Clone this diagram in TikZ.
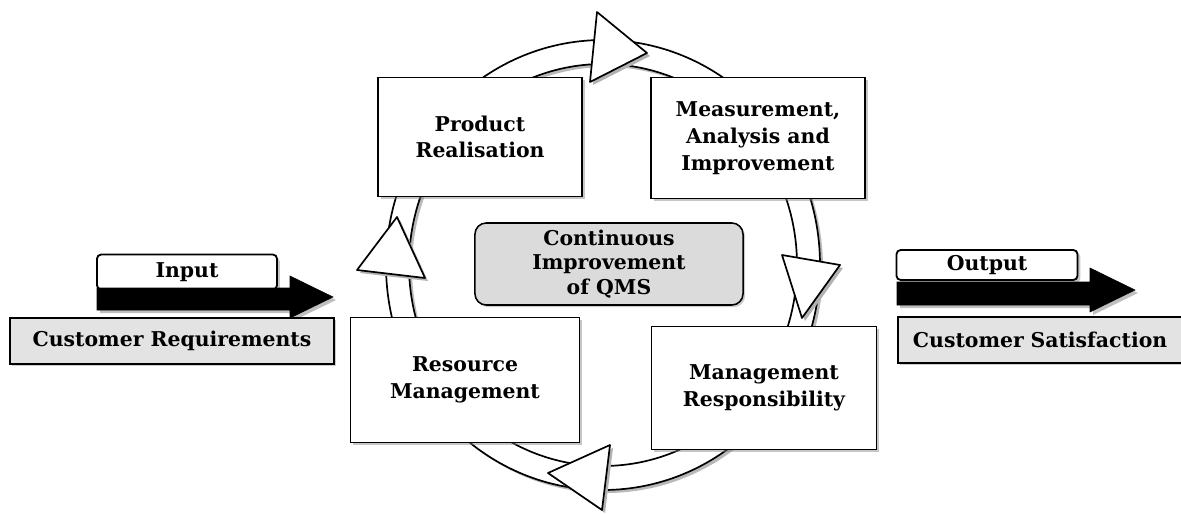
\documentclass[tikz,border=0pt]{standalone}
\usepackage{fontspec}
\setmainfont{DejaVu Serif}
\usetikzlibrary{shadows}
\tikzset{
  lbl/.style={font=\bfseries\fontsize{14.5}{19}\selectfont, align=center},
  stagebox/.style={lbl, draw=black, line width=1.3pt, fill=white, inner sep=0pt,
    drop shadow={shadow xshift=2pt, shadow yshift=-2pt, opacity=0.45, fill=gray}},
  tagbox/.style={stagebox, rounded corners=3pt},
  greybox/.style={lbl, draw=black, line width=1.1pt, fill=gray!22, inner sep=0pt,
    drop shadow={shadow xshift=1.5pt, shadow yshift=-1.5pt, opacity=0.4, fill=gray}},
  turn/.style={fill=white, draw=black, line width=1.2pt, line join=round},
  turnshadow/.style={fill=gray!60, draw=none},
  flow/.style={fill=black, draw=black, line join=miter}
}
\begin{document}
\begin{tikzpicture}[x=0.025cm,y=-0.025cm]
  \useasboundingbox (0,0) rectangle (1181,513);
  % ring behind the four stages
  \fill[gray!55, even odd rule] (606,268) ellipse [x radius=217, y radius=225]
    (606,268) ellipse [x radius=194, y radius=201];
  \filldraw[fill=white, draw=black, line width=1.2pt, even odd rule]
    (603,265) ellipse [x radius=217, y radius=225]
    (603,265) ellipse [x radius=194, y radius=201];
  % stages
  \node[stagebox, minimum width=5.1cm, minimum height=2.975cm] (prod) at (480,137)
    {Product\\Realisation};
  \node[stagebox, minimum width=5.35cm, minimum height=3.025cm] (meas) at (758,138)
    {Measurement,\\Analysis and\\Improvement};
  \node[stagebox, minimum width=5.725cm, minimum height=3.125cm] (res) at (465,380)
    {Resource\\Management};
  \node[stagebox, minimum width=5.625cm, minimum height=3.075cm] (mgmt) at (764,388)
    {Management\\Responsibility};
  \node[greybox, rounded corners=8pt, fill=gray!28, minimum width=6.7cm,
    minimum height=2.05cm, font=\bfseries\fontsize{14.5}{17.5}\selectfont]
    (cont) at (609,264) {Continuous\\Improvement\\of QMS};
  % turning arrows on the ring
  \fill[turnshadow] (600,15) -- (650,56) -- (593,85) -- cycle;
  \draw[turn] (597,12) -- (647,53) -- (590,82) -- cycle;
  \fill[turnshadow] (785,258) -- (843,268) -- (805,321) -- cycle;
  \draw[turn] (782,255) -- (840,265) -- (802,318) -- cycle;
  \fill[turnshadow] (613,448) -- (551,476) -- (605,513) -- cycle;
  \draw[turn] (610,445) -- (548,473) -- (602,510) -- cycle;
  \fill[turnshadow] (400,220) -- (360,273) -- (428,281) -- cycle;
  \draw[turn] (397,217) -- (357,270) -- (425,278) -- cycle;
  % input side
  \node[tagbox, minimum width=4.5cm, minimum height=0.875cm] (in) at (187,272) {Input};
  \fill[gray!50] (100,291) -- (293,291) -- (293,279) -- (336,300) -- (293,321)
    -- (293,313) -- (100,313) -- cycle;
  \fill[flow] (97,288) -- (290,288) -- (290,276) -- (333,297) -- (290,318)
    -- (290,310) -- (97,310) -- cycle;
  \node[greybox, minimum width=8.1cm, minimum height=1.15cm] (req) at (172,341)
    {Customer Requirements};
  % output side
  \node[tagbox, minimum width=4.525cm, minimum height=0.75cm] (out) at (987,265) {Output};
  \fill[gray!50] (900,285) -- (1093,285) -- (1093,271) -- (1138,293) -- (1093,315)
    -- (1093,308) -- (900,308) -- cycle;
  \fill[flow] (897,282) -- (1090,282) -- (1090,268) -- (1135,290) -- (1090,312)
    -- (1090,305) -- (897,305) -- cycle;
  \node[greybox, minimum width=7.5cm, minimum height=1.15cm, text width=6.75cm,
    align=left] (sat) at (1048,340) {Customer Satisfaction};
\end{tikzpicture}
\end{document}
